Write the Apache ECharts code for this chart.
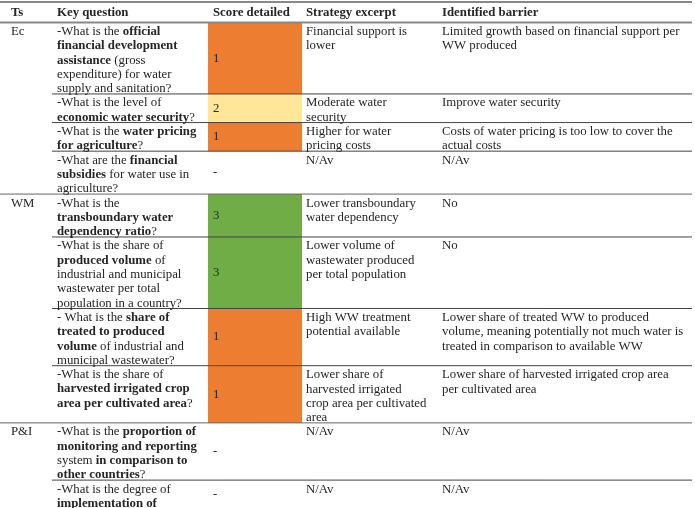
<!DOCTYPE html>
<html>
<head>
<meta charset="utf-8">
<script src="https://cdn.jsdelivr.net/npm/echarts@6/dist/echarts.min.js"></script>
<style>
  html, body { margin: 0; padding: 0; background: #fff; }
  #main { width: 695px; height: 508px; }
</style>
</head>
<body>
<div id="main"></div>
<script>
// ---- table content ----
var headers = ['Ts', 'Key question', 'Score detailed', 'Strategy excerpt', 'Identified barrier'];
var topics = ['Ec', '', '', '', 'WM', '', '', '', 'P&I', ''];
// *...* marks bold words
var questions = [
  '-What is the *official*\n*financial development*\n*assistance* (gross\nexpenditure) for water\nsupply and sanitation?',
  '-What is the level of\n*economic water security*?',
  '-What is the *water pricing*\n*for agriculture*?',
  '-What are the *financial*\n*subsidies* for water use in\nagriculture?',
  '-What is the\n*transboundary water*\n*dependency ratio*?',
  '-What is the share of\n*produced volume* of\nindustrial and municipal\nwastewater per total\npopulation in a country?',
  '- What is the *share of*\n*treated to produced*\n*volume* of industrial and\nmunicipal wastewater?',
  '-What is the share of\n*harvested irrigated crop*\n*area per cultivated area*?',
  '-What is the *proportion of*\n*monitoring and reporting*\nsystem *in comparison to*\n*other countries*?',
  '-What is the degree of\n*implementation of*'
];
var scores = ['1', '2', '1', '-', '3', '3', '1', '1', '-', '-'];
var excerpts = [
  'Financial support is\nlower',
  'Moderate water\nsecurity',
  'Higher for water\npricing costs',
  'N/Av',
  'Lower transboundary\nwater dependency',
  'Lower volume of\nwastewater produced\nper total population',
  'High WW treatment\npotential available',
  'Lower share of\nharvested irrigated\ncrop area per cultivated\narea',
  'N/Av',
  'N/Av'
];
var barriers = [
  'Limited growth based on financial support per\nWW produced',
  'Improve water security',
  'Costs of water pricing is too low to cover the\nactual costs',
  'N/Av',
  'No',
  'No',
  'Lower share of treated WW to produced\nvolume, meaning potentially not much water is\ntreated in comparison to available WW',
  'Lower share of harvested irrigated crop area\nper cultivated area',
  'N/Av',
  'N/Av'
];
var rowLines = [5, 2, 2, 3, 3, 5, 4, 4, 4, 2]; // text lines per row (last row cut by page)

// ---- layout / style ----
var colEdges = [0, 52, 208, 302, 437, 692];
var textPad = [11, 5, 5, 4, 5];
var headerTop = -1.43;
var scoreColors = { '1': '#ED7D31', '2': '#FFE699', '3': '#70AD47' };
var FONT = '"Liberation Serif", "DejaVu Serif", serif';
var FS = 12.8, LH = 14.3, INK = '#262626';

var rich = {
  n: { fontFamily: FONT, fontSize: FS, lineHeight: LH, fill: INK, color: INK },
  b: { fontFamily: FONT, fontSize: FS, lineHeight: LH, fill: INK, color: INK, fontWeight: 'bold' }
};

function toRich(s) {
  return s.split('\n').map(function (line) {
    return line.split('*').map(function (p, k) {
      return p ? '{' + (k % 2 ? 'b' : 'n') + '|' + p + '}' : '';
    }).join('');
  }).join('\n');
}

var rowData = [];
var acc = 0;
for (var i = 0; i < rowLines.length; i++) {
  rowData.push([acc, acc + rowLines[i]]);
  acc += rowLines[i];
}

function txt(x, y, text, extra) {
  var st = {
    text: text, fontFamily: FONT, fontSize: FS, lineHeight: LH,
    fill: INK, verticalAlign: 'top', align: 'left'
  };
  for (var k in extra) st[k] = extra[k];
  return { type: 'text', x: x, y: y, z2: 20, style: st };
}

function renderRow(params, api) {
  var i = params.dataIndex;
  var top = api.coord([0, api.value(0)])[1];
  var bottom = api.coord([0, api.value(1)])[1];
  var xs = colEdges.map(function (v) { return api.coord([v, 0])[0]; });
  var children = [];
  var fill = scoreColors[scores[i]];
  if (fill) {
    children.push({ type: 'rect', z2: 1,
      shape: { x: xs[2], y: top, width: xs[3] - xs[2], height: bottom - top },
      style: { fill: fill } });
  }
  if (i < rowLines.length - 1) {
    var groupEnd = topics[i + 1] !== '';
    children.push({ type: 'line', z2: 10,
      shape: { x1: groupEnd ? xs[0] : xs[1], y1: bottom, x2: xs[5], y2: bottom },
      style: { stroke: groupEnd ? '#666' : '#444', lineWidth: 1 } });
  }
  var ty = top + 2;
  if (topics[i]) children.push(txt(xs[0] + textPad[0], ty, topics[i]));
  children.push(txt(xs[1] + textPad[1], ty, toRich(questions[i]), { rich: rich }));
  children.push(txt(xs[2] + textPad[2], (top + bottom) / 2, scores[i], { verticalAlign: 'middle' }));
  children.push(txt(xs[3] + textPad[3], ty, excerpts[i]));
  children.push(txt(xs[4] + textPad[4], ty, barriers[i]));
  return { type: 'group', children: children };
}

function renderHeader(params, api) {
  var top = api.coord([0, api.value(0)])[1];
  var bottom = api.coord([0, api.value(1)])[1];
  var xs = colEdges.map(function (v) { return api.coord([v, 0])[0]; });
  var children = [
    { type: 'line', z2: 10, shape: { x1: xs[0], y1: top, x2: xs[5], y2: top },
      style: { stroke: '#888', lineWidth: 2 } },
    { type: 'line', z2: 10, shape: { x1: xs[0], y1: bottom, x2: xs[5], y2: bottom },
      style: { stroke: '#888', lineWidth: 2 } }
  ];
  headers.forEach(function (h, c) {
    children.push(txt(xs[c] + textPad[c], (top + bottom) / 2, h,
      { verticalAlign: 'middle', fontWeight: 'bold' }));
  });
  return { type: 'group', children: children };
}

var chart = echarts.init(document.getElementById('main'), null, { renderer: 'canvas' });
chart.setOption({
  animation: false,
  backgroundColor: '#fff',
  grid: { left: 0, right: 0, top: 2, height: 506 },
  xAxis: { type: 'value', min: 0, max: 695, show: false },
  yAxis: { type: 'value', min: headerTop, max: 33.95, inverse: true, show: false },
  series: [
    { type: 'custom', name: 'header', renderItem: renderHeader, clip: false,
      data: [[headerTop, 0]], encode: { y: [0, 1] }, silent: true },
    { type: 'custom', name: 'rows', renderItem: renderRow, clip: false,
      data: rowData, encode: { y: [0, 1] }, silent: true }
  ]
});
</script>
</body>
</html>
